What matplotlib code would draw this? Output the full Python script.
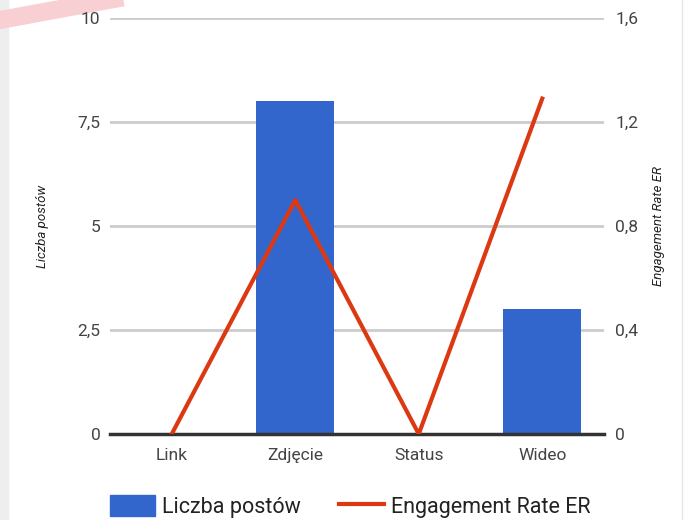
import matplotlib.pyplot as plt
from matplotlib.lines import Line2D
from matplotlib.patches import Patch

plt.rcParams['font.family'] = ['Roboto', 'DejaVu Sans']

categories = ['Link', 'Zdjęcie', 'Status', 'Wideo']
posts = [0, 8, 0, 3]
er = [0, 0.9, 0, 1.29]
left_ticks = [0, 2.5, 5, 7.5, 10]
left_labels = ['0', '2,5', '5', '7,5', '10']
right_ticks = [0, 0.4, 0.8, 1.2, 1.6]
right_labels = ['0', '0,4', '0,8', '1,2', '1,6']

blue = '#3366cc'
red = '#dc3912'

fig = plt.figure(figsize=(6.84, 5.2), dpi=100)
ax = fig.add_axes([110 / 684, 1 - 434 / 520, 494 / 684, 416 / 520])
ax2 = ax.twinx()

x = range(len(categories))
ax.bar(x, posts, width=0.63, color=blue, zorder=2)
ax.set_ylim(0, 10)
ax.set_xlim(-0.5, 3.5)
ax.set_yticks(left_ticks)
ax.set_yticklabels(left_labels)
ax.set_xticks(list(x))
ax.set_xticklabels(categories)
ax.grid(axis='y', color='#cccccc', linewidth=2, zorder=0)
for s in ['top', 'right', 'left']:
    ax.spines[s].set_visible(False)
ax.spines['bottom'].set_color('#333333')
ax.spines['bottom'].set_linewidth(2.5)
ax.spines['bottom'].set_zorder(3)
ax.tick_params(axis='both', length=0, labelsize=12.5, colors='#444444', pad=7)
ax.tick_params(axis='x', pad=10)
ax.set_ylabel('Liczba postów', fontsize=9.5, style='italic', color='#222222', labelpad=20)

ax2.plot(list(x), er, color=red, linewidth=3, zorder=4)
ax2.set_ylim(0, 1.6)
ax2.set_yticks(right_ticks)
ax2.set_yticklabels(right_labels)
for s in ax2.spines.values():
    s.set_visible(False)
ax2.tick_params(axis='y', length=0, labelsize=12.5, colors='#444444', pad=8)
ax2.set_ylabel('Engagement Rate ER', fontsize=9.5, style='italic', color='#222222', labelpad=10)

handles = [Patch(color=blue, label='Liczba postów'),
           Line2D([0], [0], color=red, linewidth=3, label='Engagement Rate ER')]
fig.legend(handles=handles, loc='lower left', bbox_to_anchor=(110 / 684, 2 / 520), ncol=2,
           frameon=False, fontsize=15.5, handlelength=2.1, handleheight=1.16,
           borderpad=0, borderaxespad=0, columnspacing=1.75, handletextpad=0.33,
           labelcolor='#222222')

# page edges and the faint ribbon in the corner
fig.add_artist(plt.Rectangle((0, 0), 8 / 684, 1, transform=fig.transFigure,
                             color='#eeeeee', zorder=-1))
fig.add_artist(Line2D([0, 125 / 684], [1 - 20 / 520, 1 + 3 / 520], transform=fig.transFigure,
                      color='#f8d0d3', linewidth=13, zorder=-1))
fig.add_artist(Line2D([682 / 684, 682 / 684], [0, 1], transform=fig.transFigure,
                      color='#e6e6e6', linewidth=1))

fig.savefig('out.png', dpi=100)
